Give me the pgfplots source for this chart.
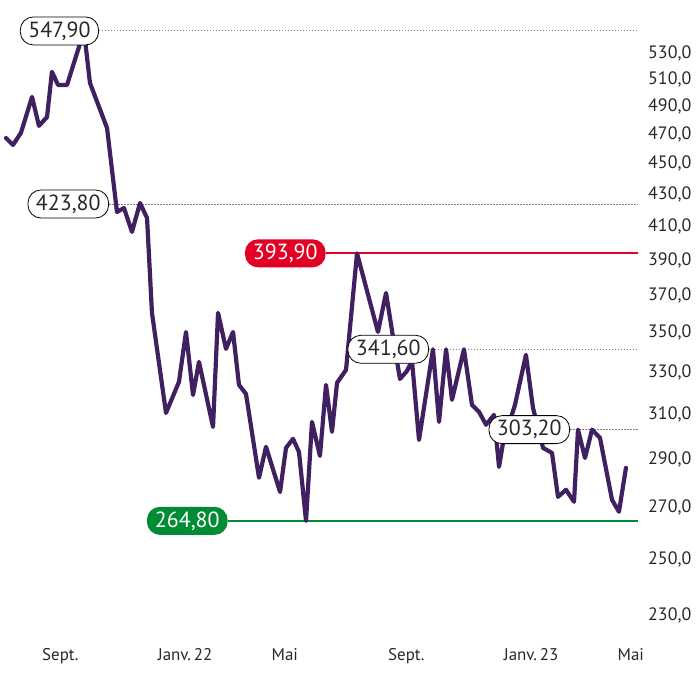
\documentclass[border=0pt]{standalone}
\usepackage{pgfplots}
\pgfplotsset{compat=1.18}
\usepackage{fontspec}
\setmainfont{PT Sans}

\definecolor{linec}{RGB}{64,32,96}
\definecolor{lvlred}{RGB}{226,0,36}
\definecolor{greenc}{RGB}{0,140,52}
\definecolor{txt}{RGB}{40,40,40}

\tikzset{lbl/.style={draw=black, line width=0.8bp, fill=white, rounded corners=13bp,
    minimum height=28bp, inner xsep=8bp, inner ysep=0pt, text=txt,
    font=\fontsize{22}{22}\selectfont, anchor=east}}

% x = days since 1 Sept 2021, y = price
\pgfplotstableread{
d v
-38.0 467.4
-30.6 462.6
-22.2 471.0
-10.5 496.8
-3.2 475.9
5.3 482.2
10.5 515.6
16.9 505.7
26.4 505.7
44.3 547.9
50.6 507.2
68.6 474.4
79.1 418.8
86.5 421.3
94.9 406.6
103.4 424.4
110.8 415.1
116.0 360.6
130.8 310.8
144.5 325.5
151.9 350.5
159.3 319.2
165.6 335.3
180.4 304.4
185.7 360.6
194.1 341.8
201.5 350.5
207.8 324.0
215.2 319.7
228.9 282.3
236.3 295.6
251.1 276.4
257.4 295.1
264.8 299.1
271.1 293.3
278.5 264.8
284.8 306.7
293.2 291.6
299.6 324.0
305.9 302.2
311.2 325.0
320.7 331.3
332.3 393.9
354.4 350.5
362.9 371.4
370.3 347.9
377.6 326.9
385.0 330.8
390.3 335.8
397.7 298.6
412.4 341.6
418.8 306.7
426.2 341.6
432.5 316.9
445.1 341.6
453.6 314.5
461.0 311.3
468.4 305.4
476.8 309.9
482.1 286.9
486.3 297.3
498.9 314.5
510.5 338.8
517.9 313.2
528.5 295.1
538.0 292.9
544.3 274.4
552.7 277.3
561.2 272.4
565.4 303.2
572.8 290.7
580.2 303.2
588.6 299.5
601.3 273.2
608.6 268.4
616.0 286.5
}\prices

\begin{document}
\begin{tikzpicture}
\useasboundingbox (0bp,0bp) rectangle (700bp,700bp);
\begin{axis}[
  at={(0bp,60bp)}, anchor=south west,
  scale only axis, width=638bp, height=640bp,
  xmin=-44.3, xmax=628.7,
  ymode=log, ymin=221.9, ymax=573.7,
  clip=false,
  axis line style={draw=none},
  major tick length=0pt,
  xtick={0,122,242,365,487,607},
  xticklabels={Sept., Janv.\,22, Mai, Sept., Janv.\,23, Mai},
  xticklabel style={anchor=north west, inner sep=0pt, yshift=-8bp,
    font=\fontsize{17}{17}\selectfont, text=txt},
  ytick={230,250,270,290,310,330,350,370,390,410,430,450,470,490,510,530},
  yticklabels={{230,0},{250,0},{270,0},{290,0},{310,0},{330,0},{350,0},{370,0},
    {390,0},{410,0},{430,0},{450,0},{470,0},{490,0},{510,0},{530,0}},
  yticklabel pos=right,
  yticklabel style={anchor=west, inner sep=0pt, xshift=10bp,
    font=\fontsize{18}{18}\selectfont, text=txt},
]
% reference levels
\addplot[draw=gray, line width=0.9bp, dash pattern=on 1.5bp off 1.5bp] coordinates {(60.1,547.9) (628.7,547.9)};
\addplot[draw=gray, line width=0.9bp, dash pattern=on 1.5bp off 1.5bp] coordinates {(70.7,423.8) (628.7,423.8)};
\addplot[draw=gray, line width=0.9bp, dash pattern=on 1.5bp off 1.5bp] coordinates {(408.2,341.6) (628.7,341.6)};
\addplot[draw=gray, line width=0.9bp, dash pattern=on 1.5bp off 1.5bp] coordinates {(557.0,303.2) (628.7,303.2)};
\addplot[draw=lvlred, line width=1.8bp] coordinates {(299.6,393.9) (628.7,393.9)};
\addplot[draw=greenc, line width=1.8bp] coordinates {(196.2,264.8) (628.7,264.8)};
% price
\addplot[draw=linec, line width=4.2bp, line join=round, line cap=round] table[x=d, y=v] {\prices};
% value labels
\node[lbl] at (axis cs:60.1,547.9) {547,90};
\node[lbl] at (axis cs:70.7,423.8) {423,80};
\node[lbl] at (axis cs:408.2,341.6) {341,60};
\node[lbl] at (axis cs:557.0,303.2) {303,20};
\node[lbl, draw=none, fill=lvlred, text=white] at (axis cs:299.6,393.9) {393,90};
\node[lbl, draw=none, fill=greenc, text=white] at (axis cs:196.2,264.8) {264,80};
\end{axis}
\end{tikzpicture}
\end{document}
